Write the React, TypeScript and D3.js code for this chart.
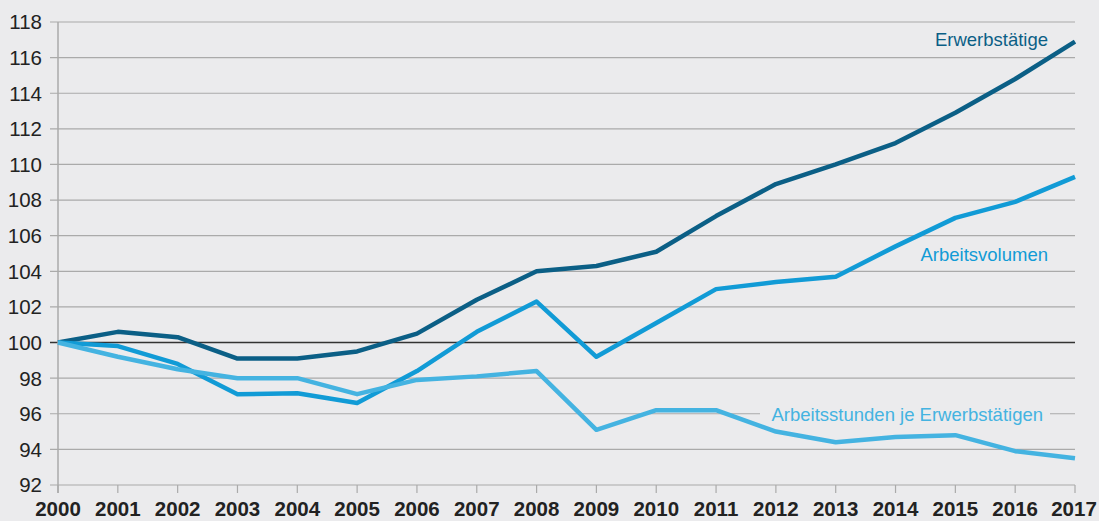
import React from 'react';
import * as d3 from 'd3';

const years = [2000, 2001, 2002, 2003, 2004, 2005, 2006, 2007, 2008, 2009, 2010, 2011, 2012, 2013, 2014, 2015, 2016, 2017];
const erwerbstaetige = [100, 100.6, 100.3, 99.1, 99.1, 99.5, 100.5, 102.4, 104.0, 104.3, 105.1, 107.1, 108.9, 110.0, 111.2, 112.9, 114.8, 116.9];
const arbeitsvolumen = [100, 99.8, 98.8, 97.1, 97.15, 96.6, 98.4, 100.6, 102.3, 99.2, 101.1, 103.0, 103.4, 103.7, 105.4, 107.0, 107.9, 109.3];
const arbeitsstunden = [100, 99.2, 98.5, 98.0, 98.0, 97.1, 97.9, 98.1, 98.4, 95.1, 96.2, 96.2, 95.0, 94.4, 94.7, 94.8, 93.9, 93.5];
const yTicks = [92, 94, 96, 98, 100, 102, 104, 106, 108, 110, 112, 114, 116, 118];

const series = [
  { name: 'Erwerbstätige', values: erwerbstaetige, color: '#0b5f86', labelX: 1048, labelY: 46, mask: false },
  { name: 'Arbeitsvolumen', values: arbeitsvolumen, color: '#119bd6', labelX: 1048, labelY: 261, mask: false },
  { name: 'Arbeitsstunden je Erwerbstätigen', values: arbeitsstunden, color: '#44b3e1', labelX: 1043, labelY: 421, mask: true },
];

const W = 1099;
const H = 521;
const bg = '#ebebed';

export default function App() {
  const x = d3.scaleLinear().domain([2000, 2017]).range([58, 1075]);
  const y = d3.scaleLinear().domain([92, 118]).range([485, 22]);
  const line = d3.line<number>()
    .x((_, i) => x(years[i]))
    .y(d => y(d));

  return (
    <svg width={W} height={H} style={{ position: 'absolute', left: 0, top: 0 }}
      fontFamily="'Liberation Sans', Arial, sans-serif">
      <rect x={0} y={0} width={W} height={H} fill={bg} />
      {/* grid */}
      {yTicks.map(t => (
        <line key={t} x1={50} x2={1075} y1={y(t)} y2={y(t)}
          stroke={t === 100 ? '#333' : '#aaaaaa'} strokeWidth={t === 100 ? 1.6 : 1.2} />
      ))}
      {/* left axis */}
      <line x1={58} x2={58} y1={y(118)} y2={y(92) + 8} stroke="#aaaaaa" strokeWidth={1.5} />
      {years.map(yr => (
        <line key={yr} x1={x(yr)} x2={x(yr)} y1={y(92)} y2={y(92) + 8} stroke="#aaaaaa" strokeWidth={1.2} />
      ))}
      {/* y labels */}
      {yTicks.map(t => (
        <text key={t} x={42} y={y(t)} dy="0.36em" textAnchor="end" fontSize={20.5} fill="#222">{t}</text>
      ))}
      {/* x labels */}
      {years.map(yr => (
        <text key={yr} x={x(yr) - (yr === 2017 ? 1 : 0)} y={516} textAnchor="middle" fontSize={20.5} fontWeight="bold" fill="#222">{yr}</text>
      ))}
      {/* series labels */}
      {series.map(s => (
        <g key={s.name}>
          {s.mask && <rect x={760} y={s.labelY - 16} width={290} height={22} fill={bg} />}
          <text x={s.labelX} y={s.labelY} textAnchor="end" fontSize={18.5} fill={s.color}>{s.name}</text>
        </g>
      ))}
      {/* lines */}
      {series.map(s => (
        <path key={s.name} d={line(s.values) || ''} fill="none" stroke={s.color}
          strokeWidth={4.5} strokeLinejoin="round" strokeLinecap="butt" />
      ))}
    </svg>
  );
}
